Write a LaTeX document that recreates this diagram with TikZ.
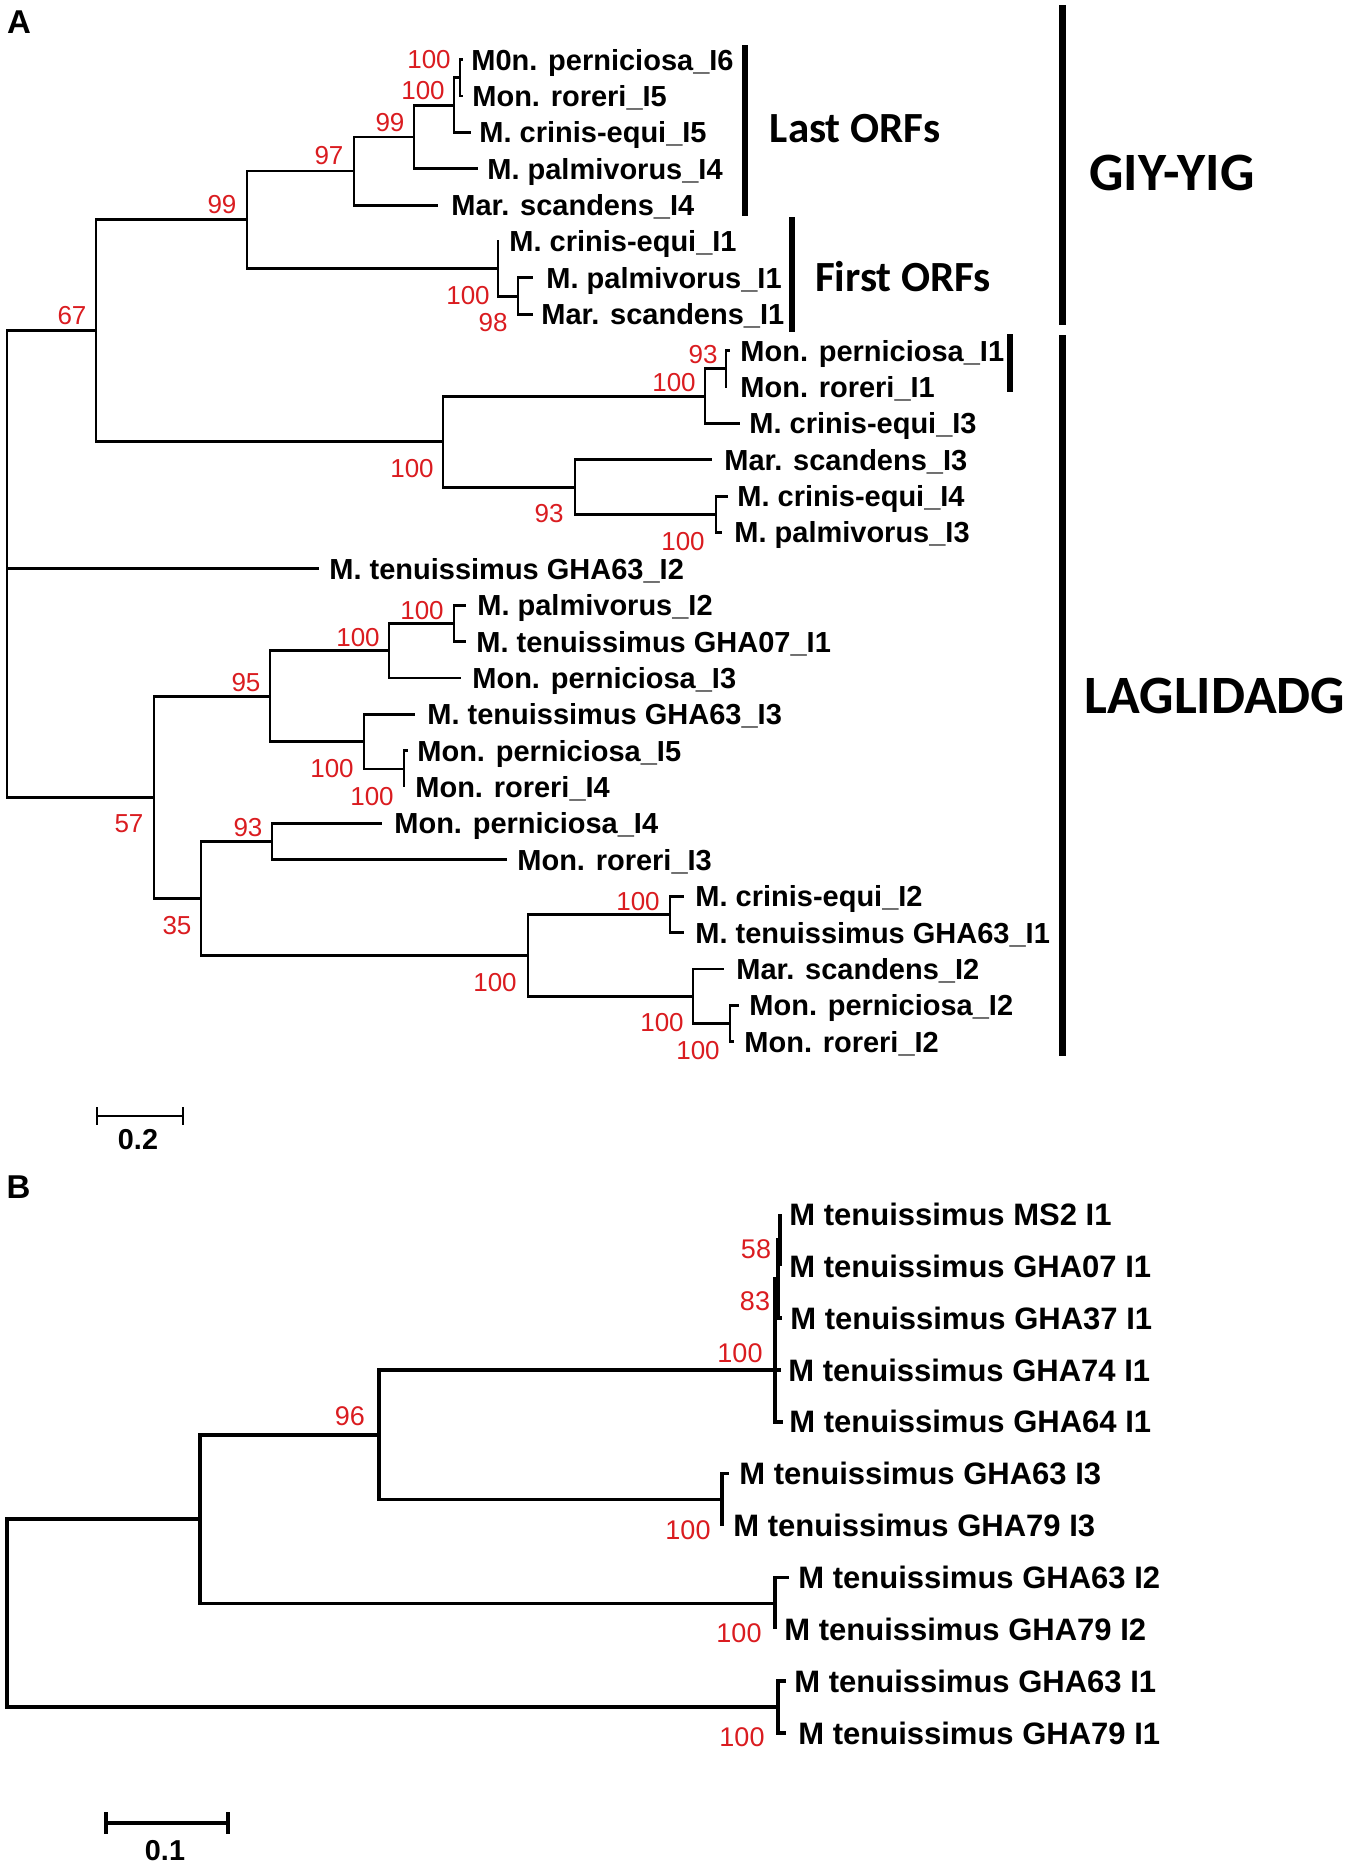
\documentclass[tikz,border=0pt]{standalone}
\usepackage{fontspec}
\setmainfont{Liberation Sans}
\newfontfamily\calib{Carlito}
\definecolor{bsred}{RGB}{218,28,32}
\tikzset{
  brA/.style={line width=1.45pt, line join=miter},
  brB/.style={line width=1.75pt, line join=miter},
  bs/.style={text=bsred, inner sep=0pt, font=\fontsize{13}{13}\selectfont},
  bsB/.style={text=bsred, inner sep=0pt, font=\fontsize{13.5}{13.5}\selectfont},
  lfA/.style={anchor=base west, inner sep=0pt, yshift=-5.2pt, font=\fontsize{14.5}{15}\selectfont\bfseries},
  lfB/.style={anchor=base west, inner sep=0pt, yshift=-5.55pt, font=\fontsize{15.5}{16}\selectfont\bfseries},
  clade/.style={inner sep=0pt, font=\calib\fontsize{21.5}{22}\selectfont\bfseries},
  bigclade/.style={inner sep=0pt, font=\calib\fontsize{27}{28}\selectfont\bfseries},
  bar/.style={line width=2.6pt},
  bigbar/.style={line width=3.5pt},
  panel/.style={inner sep=0pt, font=\fontsize{16.5}{17}\selectfont\bfseries},
  sclab/.style={inner sep=0pt, font=\fontsize{14.4}{15}\selectfont\bfseries}
}
\begin{document}
\begin{tikzpicture}[x=0.5pt,y=-0.5pt]
\useasboundingbox (0,0) rectangle (1355,1870);

% ---------------- Panel A ----------------
\node[panel] (pA) at (19,22) {A};

% leaves: tips and labels
\coordinate (t1) at (463,59.6);  \node[lfA] (l1) at (471,59.6) {M0n. perniciosa\_I6};
\coordinate (t2) at (463,96.0);  \node[lfA] (l2) at (472,96.0) {Mon. roreri\_I5};
\coordinate (t3) at (471,132.4); \node[lfA] (l3) at (479,132.4) {M. crinis-equi\_I5};
\coordinate (t4) at (478,168.8); \node[lfA] (l4) at (487,168.8) {M. palmivorus\_I4};
\coordinate (t5) at (438,205.1); \node[lfA] (l5) at (451,205.1) {Mar. scandens\_I4};
\coordinate (t6) at (499,241.5); \node[lfA] (l6) at (509,241.5) {M. crinis-equi\_I1};
\coordinate (t7) at (533,277.9); \node[lfA] (l7) at (546,277.9) {M. palmivorus\_I1};
\coordinate (t8) at (533,314.3); \node[lfA] (l8) at (541,314.3) {Mar. scandens\_I1};
\coordinate (t9) at (730,350.7); \node[lfA] (l9) at (740,350.7) {Mon. perniciosa\_I1};
\coordinate (t10) at (727,387.0); \node[lfA] (l10) at (740,387.0) {Mon. roreri\_I1};
\coordinate (t11) at (740,423.4); \node[lfA] (l11) at (749,423.4) {M. crinis-equi\_I3};
\coordinate (t12) at (712,459.8); \node[lfA] (l12) at (724,459.8) {Mar. scandens\_I3};
\coordinate (t13) at (728,496.2); \node[lfA] (l13) at (737,496.2) {M. crinis-equi\_I4};
\coordinate (t14) at (722,532.5); \node[lfA] (l14) at (734,532.5) {M. palmivorus\_I3};
\coordinate (t15) at (319,568.9); \node[lfA] (l15) at (329,568.9) {M. tenuissimus GHA63\_I2};
\coordinate (t16) at (466,605.3); \node[lfA] (l16) at (477,605.3) {M. palmivorus\_I2};
\coordinate (t17) at (466,641.7); \node[lfA] (l17) at (476,641.7) {M. tenuissimus GHA07\_I1};
\coordinate (t18) at (461,678.0); \node[lfA] (l18) at (472,678.0) {Mon. perniciosa\_I3};
\coordinate (t19) at (415,714.4); \node[lfA] (l19) at (427,714.4) {M. tenuissimus GHA63\_I3};
\coordinate (t20) at (408,750.8); \node[lfA] (l20) at (417,750.8) {Mon. perniciosa\_I5};
\coordinate (t21) at (404,787.2); \node[lfA] (l21) at (415,787.2) {Mon. roreri\_I4};
\coordinate (t22) at (382,823.5); \node[lfA] (l22) at (394,823.5) {Mon. perniciosa\_I4};
\coordinate (t23) at (507,859.9); \node[lfA] (l23) at (517,859.9) {Mon. roreri\_I3};
\coordinate (t24) at (684,896.3); \node[lfA] (l24) at (695,896.3) {M. crinis-equi\_I2};
\coordinate (t25) at (684,932.7); \node[lfA] (l25) at (695,932.7) {M. tenuissimus GHA63\_I1};
\coordinate (t26) at (724,969.0); \node[lfA] (l26) at (736,969.0) {Mar. scandens\_I2};
\coordinate (t27) at (739,1005.4); \node[lfA] (l27) at (749,1005.4) {Mon. perniciosa\_I2};
\coordinate (t28) at (734,1041.8); \node[lfA] (l28) at (744,1041.8) {Mon. roreri\_I2};

% internal nodes
\coordinate (n1) at (460,77.8);
\coordinate (n2) at (454,105.1);
\coordinate (n3) at (414,137.0);
\coordinate (n4) at (354,171.0);
\coordinate (n7) at (518,296.1);
\coordinate (n6) at (498,268.8);
\coordinate (n5) at (247,219.9);
\coordinate (n10) at (726,368.9);
\coordinate (n11) at (705,396.1);
\coordinate (n13) at (716,514.4);
\coordinate (n12) at (575,487.1);
\coordinate (n9) at (443,441.6);
\coordinate (n8) at (96,330.8);
\coordinate (n14) at (454,623.5);
\coordinate (n15) at (389,650.8);
\coordinate (n18) at (404,769.0);
\coordinate (n17) at (364,741.7);
\coordinate (n16) at (270,696.2);
\coordinate (n21) at (272,841.7);
\coordinate (n23) at (670,914.5);
\coordinate (n25) at (730,1023.6);
\coordinate (n24) at (693,996.3);
\coordinate (n22) at (528,955.4);
\coordinate (n20) at (201,898.5);
\coordinate (n19) at (154,797.4);
\coordinate (rA) at (7,568.9);

% branches
\draw[brA] (n1) |- (t1);  \draw[brA] (n1) |- (t2);
\draw[brA] (n2) |- (n1);  \draw[brA] (n2) |- (t3);
\draw[brA] (n3) |- (n2);  \draw[brA] (n3) |- (t4);
\draw[brA] (n4) |- (n3);  \draw[brA] (n4) |- (t5);
\draw[brA] (n7) |- (t7);  \draw[brA] (n7) |- (t8);
\draw[brA] (n6) |- (t6);  \draw[brA] (n6) |- (n7);
\draw[brA] (n5) |- (n4);  \draw[brA] (n5) |- (n6);
\draw[brA] (n10) |- (t9); \draw[brA] (n10) |- (t10);
\draw[brA] (n11) |- (n10); \draw[brA] (n11) |- (t11);
\draw[brA] (n13) |- (t13); \draw[brA] (n13) |- (t14);
\draw[brA] (n12) |- (t12); \draw[brA] (n12) |- (n13);
\draw[brA] (n9) |- (n11); \draw[brA] (n9) |- (n12);
\draw[brA] (n8) |- (n5);  \draw[brA] (n8) |- (n9);
\draw[brA] (rA) |- (n8);  \draw[brA] (rA) |- (t15); \draw[brA] (rA) |- (n19);
\draw[brA] (n14) |- (t16); \draw[brA] (n14) |- (t17);
\draw[brA] (n15) |- (n14); \draw[brA] (n15) |- (t18);
\draw[brA] (n18) |- (t20); \draw[brA] (n18) |- (t21);
\draw[brA] (n17) |- (t19); \draw[brA] (n17) |- (n18);
\draw[brA] (n16) |- (n15); \draw[brA] (n16) |- (n17);
\draw[brA] (n21) |- (t22); \draw[brA] (n21) |- (t23);
\draw[brA] (n23) |- (t24); \draw[brA] (n23) |- (t25);
\draw[brA] (n25) |- (t27); \draw[brA] (n25) |- (t28);
\draw[brA] (n24) |- (t26); \draw[brA] (n24) |- (n25);
\draw[brA] (n22) |- (n23); \draw[brA] (n22) |- (n24);
\draw[brA] (n20) |- (n21); \draw[brA] (n20) |- (n22);
\draw[brA] (n19) |- (n16); \draw[brA] (n19) |- (n20);

% bootstrap values A
\node[bs] (b1) at (429,60) {100};
\node[bs] (b2) at (423,91) {100};
\node[bs] (b3) at (390,123) {99};
\node[bs] (b4) at (329,156) {97};
\node[bs] (b5) at (222,205) {99};
\node[bs] (b8) at (72,316) {67};
\node[bs] (b6) at (468,296) {100};
\node[bs] (b7) at (493,323) {98};
\node[bs] (b10) at (703,355) {93};
\node[bs] (b11) at (674,383) {100};
\node[bs] (b9) at (412,469) {100};
\node[bs] (b12) at (549,514) {93};
\node[bs] (b13) at (683,542) {100};
\node[bs] (b14) at (422,611) {100};
\node[bs] (b15) at (358,638) {100};
\node[bs] (b16) at (246,683) {95};
\node[bs] (b17) at (332,769) {100};
\node[bs] (b18) at (372,797) {100};
\node[bs] (b19) at (129,824) {57};
\node[bs] (b21) at (248,828) {93};
\node[bs] (b20) at (177,926) {35};
\node[bs] (b23) at (638,902) {100};
\node[bs] (b22) at (495,983) {100};
\node[bs] (b24) at (662,1023) {100};
\node[bs] (b25) at (698,1051) {100};

% clade bars and labels
\draw[bar] (745,45) -- (745,216);
\draw[bar] (792,217) -- (792,332);
\draw[bar] (1010,334) -- (1010,392);
\draw[bigbar] (1062,5) -- (1062,325);
\draw[bigbar] (1062,335) -- (1062,1056);
\node[clade] (lastorf) at (855,129) {Last ORFs};
\node[clade] (firstorf) at (903,277) {First ORFs};
\node[bigclade] (giy) at (1172,173) {GIY-YIG};
\node[bigclade] (lag) at (1215,696) {LAGLIDADG};

% scale bar A
\draw[line width=1.4pt] (97,1116) -- (183,1116);
\draw[line width=1.4pt] (97,1107) -- (97,1125);
\draw[line width=1.4pt] (183,1107) -- (183,1125);
\node[sclab] (sA) at (138,1140) {0.2};

% ---------------- Panel B ----------------
\node[panel] (pB) at (18.5,1187) {B};

\coordinate (u1) at (780,1214.3);  \node[lfB] (k1) at (789,1214.3) {M tenuissimus MS2 I1};
\coordinate (u2) at (780,1266.2);  \node[lfB] (k2) at (789,1266.2) {M tenuissimus GHA07 I1};
\coordinate (u3) at (782,1318.1);  \node[lfB] (k3) at (790,1318.1) {M tenuissimus GHA37 I1};
\coordinate (u4) at (781,1369.9);  \node[lfB] (k4) at (788,1369.9) {M tenuissimus GHA74 I1};
\coordinate (u5) at (783,1421.8);  \node[lfB] (k5) at (789,1421.8) {M tenuissimus GHA64 I1};
\coordinate (u6) at (729,1473.7);  \node[lfB] (k6) at (739,1473.7) {M tenuissimus GHA63 I3};
\coordinate (u7) at (722,1525.6);  \node[lfB] (k7) at (733,1525.6) {M tenuissimus GHA79 I3};
\coordinate (u8) at (789,1577.5);  \node[lfB] (k8) at (798,1577.5) {M tenuissimus GHA63 I2};
\coordinate (u9) at (775,1629.3);  \node[lfB] (k9) at (784,1629.3) {M tenuissimus GHA79 I2};
\coordinate (u10) at (786,1681.2); \node[lfB] (k10) at (794,1681.2) {M tenuissimus GHA63 I1};
\coordinate (u11) at (786,1733.1); \node[lfB] (k11) at (798,1733.1) {M tenuissimus GHA79 I1};

\coordinate (m58) at (780,1240.2);
\coordinate (m83) at (778,1279.2);
\coordinate (m100) at (775,1369.9);
\coordinate (m6) at (722,1499.7);
\coordinate (m96) at (379,1434.8);
\coordinate (m8) at (775,1603.4);
\coordinate (mB2) at (200,1519.1);
\coordinate (m10) at (778,1707.2);
\coordinate (rB) at (7,1613.1);

\draw[brB] (m58) |- (u1);   \draw[brB] (m58) |- (u2);
\draw[brB] (m83) |- (m58);  \draw[brB] (m83) |- (u3);
\draw[brB] (m100) |- (m83); \draw[brB] (m100) |- (u4); \draw[brB] (m100) |- (u5);
\draw[brB] (m6) |- (u6);    \draw[brB] (m6) |- (u7);
\draw[brB] (m96) |- (m100); \draw[brB] (m96) |- (m6);
\draw[brB] (m8) |- (u8);    \draw[brB] (m8) |- (u9);
\draw[brB] (mB2) |- (m96);  \draw[brB] (mB2) |- (m8);
\draw[brB] (m10) |- (u10);  \draw[brB] (m10) |- (u11);
\draw[brB] (rB) |- (mB2);   \draw[brB] (rB) |- (m10);

\node[bsB] (c96) at (350,1416) {96};
\node[bsB] (c58) at (756,1249) {58};
\node[bsB] (c83) at (755,1301) {83};
\node[bsB] (c100a) at (740,1353) {100};
\node[bsB] (c100b) at (688,1530) {100};
\node[bsB] (c100c) at (739,1633) {100};
\node[bsB] (c100d) at (742,1737) {100};

% scale bar B
\draw[line width=1.8pt] (106,1823) -- (228,1823);
\draw[line width=1.8pt] (106,1812) -- (106,1834);
\draw[line width=1.8pt] (228,1812) -- (228,1834);
\node[sclab] (sB) at (165,1851) {0.1};
\end{tikzpicture}
\end{document}
